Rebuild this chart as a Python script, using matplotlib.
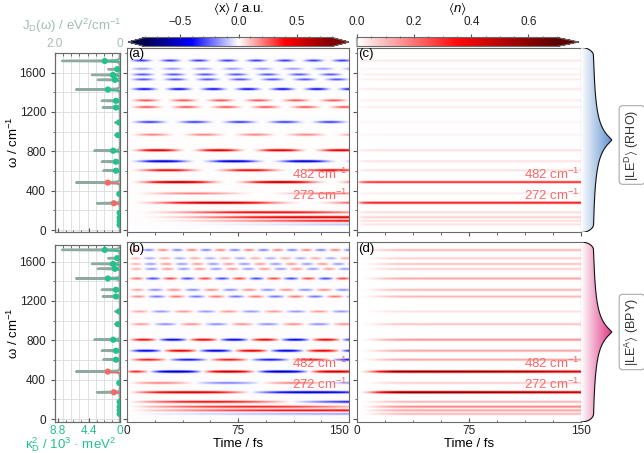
import numpy as np
import matplotlib.pyplot as plt
from matplotlib.colors import LinearSegmentedColormap
from matplotlib.patches import Polygon
from matplotlib.ticker import MultipleLocator, FixedLocator, FuncFormatter

plt.rcParams['font.family'] = ['Liberation Sans', 'DejaVu Sans']
plt.rcParams['mathtext.fontset'] = 'custom'
plt.rcParams['mathtext.rm'] = 'Liberation Sans'
plt.rcParams['mathtext.it'] = 'Liberation Sans:italic'
plt.rcParams['mathtext.bf'] = 'Liberation Sans:bold'
plt.rcParams['mathtext.fallback'] = 'stixsans'
plt.rcParams['font.size'] = 8.5
plt.rcParams['axes.edgecolor'] = '#6a6a6a'
plt.rcParams['axes.linewidth'] = 0.8
plt.rcParams['xtick.major.size'] = 3
plt.rcParams['ytick.major.size'] = 3
plt.rcParams['xtick.minor.size'] = 1.8
plt.rcParams['ytick.minor.size'] = 1.8
plt.rcParams['xtick.color'] = '#555555'
plt.rcParams['ytick.color'] = '#555555'
plt.rcParams['xtick.labelcolor'] = '#222222'
plt.rcParams['ytick.labelcolor'] = '#222222'

# vibrational modes (cm^-1) and couplings
freqs = [1718, 1634, 1576, 1526, 1428, 1313, 1245, 1093, 964, 806, 694, 603, 482, 367, 272, 175, 125, 88, 52]
kappa2 = [2.16, 0.38, 1.00, 0.72, 1.73, 0.58, 0.58, 0.14, 0.29, 0.96, 0.58, 0.58, 1.73, 0.10, 0.87, 0.05, 0.05, 0.05, 0.05]
j_peak = [1.78, 0.36, 0.86, 0.68, 1.35, 0.56, 0.53, 0.15, 0.15, 0.79, 0.56, 0.51, 1.35, 0.05, 0.71, 0.04, 0.04, 0.04, 0.04]
marked = [482, 272]

# <x> per mode: (a) RHO, (b) BPY (apparent beat frequency and time shift for BPY)
x_rho = [-0.35, -0.18, -0.3, -0.3, -0.45, 0.3, 0.3, -0.35, 0.22, 0.6, -0.6, 0.5, 0.75, 0.22, 0.7, 0.5, 0.6, 0.5, -0.25]
x_bpy = [0.22, 0.15, 0.18, 0.18, 0.32, 0.2, 0.24, 0.18, 0.2, 0.5, -0.55, 0.42, 0.7, 0.22, 0.62, 0.45, 0.4, 0.45, -0.18]
f_bpy = [1718, 1634, 1576, 1526, 1428, 1313, 1245, 1093, 964, 806, 694, 603, 463, 367, 200, 150, 100, 60, 40]
t0_bpy = [0, 0, 0, 0, 0, 0, 0, 0, 0, 0, 0, 0, 21, 0, 0, 0, 0, 0, 0]

# <n> per mode: (c) RHO, (d) BPY (drop = fractional loss at 150 fs)
n_rho = [0.04, 0.02, 0.03, 0.03, 0.04, 0.03, 0.03, 0.02, 0.02, 0.05, 0.05, 0.05, 0.35, 0.03, 0.4, 0.06, 0.08, 0.06, 0.05]
n_bpy = [0.12, 0.08, 0.1, 0.08, 0.15, 0.12, 0.12, 0.05, 0.1, 0.18, 0.15, 0.15, 0.8, 0.08, 0.8, 0.12, 0.2, 0.15, 0.12]
n_drop = [0, 0, 0, 0, 0, 0, 0, 0, 0, 0, 0, 0, 0.35, 0, 0.3, 0, 0, 0, 0]

W, H = 644, 453
fig = plt.figure(figsize=(W / 100, H / 100), dpi=100)


def box(x0, y0, x1, y1):
    return [x0 / W, 1 - y1 / H, (x1 - x0) / W, (y1 - y0) / H]


freq = np.array(freqs, float)
c_fs = 2.99792458e-5
t = np.linspace(0, 150, 601)
w = np.arange(-40, 1861, 1.0)
prof = np.exp(-(w[:, None] - freq[None, :]) ** 2 / (2 * 7.5 ** 2))

ph_a = 2 * np.pi * c_fs * freq[:, None] * t[None, :]
Za = prof @ (np.array(x_rho)[:, None] * 0.5 * (1 - np.cos(ph_a)))
ph_b = 2 * np.pi * c_fs * np.array(f_bpy, float)[:, None] * (t[None, :] + np.array(t0_bpy, float)[:, None])
Zb = prof @ (np.array(x_bpy)[:, None] * np.sin(ph_b) * (1 - np.exp(-t / 4.0))[None, :])
Zc = prof @ (np.array(n_rho)[:, None] * (1 - np.exp(-t / 3.0))[None, :])
env_d = (1 - np.exp(-(t / 18.0) ** 2))[None, :] * (1 - np.array(n_drop)[:, None] * (t[None, :] / 150) ** 2)
Zd = prof @ (np.array(n_bpy)[:, None] * env_d)

cmap_x = plt.get_cmap('seismic')
cmap_n = LinearSegmentedColormap.from_list('n', [(0, '#ffffff'), (0.5, '#ff0a0a'), (1, '#5c0000')])

green = '#22c18d'
salmon = '#f26b6b'
jcol = '#a3bcb3'
w_fine = np.arange(-40, 1860, 0.25)
gam = 2.5
j_curve = sum(a * gam ** 2 / ((w_fine - f) ** 2 + gam ** 2) for a, f in zip(j_peak, freqs))
dot_cols = [salmon if f in marked else green for f in freqs]
fmt0 = FuncFormatter(lambda v, p: '0' if abs(v) < 1e-9 else f'{v:.1f}')


def spectral_panel(r, ylim, top_lab, bottom_lab):
    ax = fig.add_axes(r)
    axk = ax.twiny()
    ax.plot(j_curve, w_fine, color='#8eaa9f', lw=1.7, zorder=2)
    ax.set_xlim(2.0, 0)
    ax.set_ylim(*ylim)
    ax.xaxis.set_ticks_position('top')
    ax.xaxis.set_major_locator(FixedLocator([2.0, 0]))
    ax.xaxis.set_minor_locator(MultipleLocator(0.25))
    ax.xaxis.set_major_formatter(fmt0)
    ax.tick_params(axis='x', which='both', direction='in', labelcolor=jcol, labeltop=top_lab,
                   labelbottom=False, pad=2)
    ax.yaxis.set_major_locator(MultipleLocator(400))
    ax.yaxis.set_minor_locator(MultipleLocator(200))
    ax.tick_params(axis='y', which='both', direction='out')
    ax.grid(True, which='both', color='#dcdcdc', lw=0.6)
    ax.set_axisbelow(True)
    y0, y1 = r[1], r[1] + r[3]
    fig.text(13 / W, (y0 + y1) / 2, 'ω / cm$^{-1}$', rotation=90, ha='center', va='center', fontsize=9.5)

    axk.set_xlim(9.2, 0)
    axk.xaxis.set_ticks_position('bottom')
    axk.xaxis.set_major_locator(FixedLocator([8.8, 4.4, 0]))
    axk.xaxis.set_minor_locator(MultipleLocator(1.1))
    axk.xaxis.set_major_formatter(fmt0)
    axk.tick_params(axis='x', which='both', direction='in', labelcolor=green, labelbottom=bottom_lab,
                    labeltop=False, pad=2)
    axk.hlines(freqs, 0, kappa2, colors=dot_cols, lw=1.0, zorder=3)
    axk.scatter(kappa2, freqs, s=20, c=dot_cols, zorder=4, linewidths=0)
    return ax


def map_panel(r, Z, cmap, vmin, vmax, ylim, letter, bottom):
    ax = fig.add_axes(r)
    im = ax.imshow(Z, extent=[0, 150, w[0], w[-1]], origin='lower', aspect='auto',
                   cmap=cmap, vmin=vmin, vmax=vmax, interpolation='bilinear')
    ax.set_xlim(0, 150)
    ax.set_ylim(*ylim)
    ax.xaxis.set_major_locator(MultipleLocator(75))
    ax.xaxis.set_minor_locator(MultipleLocator(18.75))
    ax.yaxis.set_major_locator(MultipleLocator(400))
    ax.yaxis.set_minor_locator(MultipleLocator(200))
    ax.tick_params(axis='y', which='both', direction='out', labelleft=False)
    if bottom:
        ax.tick_params(axis='x', which='both', direction='in', pad=2)
        ax.set_xlabel('Time / fs', fontsize=9.5, labelpad=1)
    else:
        ax.tick_params(axis='x', which='both', direction='out', labelbottom=False)
    ax.text(0.005, 0.995, letter, transform=ax.transAxes, ha='left', va='top', fontsize=9.5)
    for f in marked:
        ax.text(149, f + 4, f'{f} cm$^{{-1}}$', color=salmon, ha='right', va='bottom', fontsize=9.5)
    return ax, im


def brace(r, color):
    ax = fig.add_axes(r)
    ax.set_xlim(0, 1)
    ax.set_ylim(0, 1)
    ax.axis('off')
    u = np.linspace(0, 1, 1200)
    s = np.abs(u - 0.5) * 2
    rho = 0.09
    corner = np.where(s > 1 - rho, np.sqrt(np.clip(1 - ((s - (1 - rho)) / rho) ** 2, 0, 1)), 1.0)
    x = corner * (0.3 + 0.58 / (1 + (s / 0.15) ** 1.2))
    poly = Polygon(np.column_stack([x, u]), closed=True, fc='none', ec='none')
    ax.add_patch(poly)
    grad = np.linspace(0, 1, 256)[None, :]
    cm = LinearSegmentedColormap.from_list('g', ['#ffffff', color])
    im = ax.imshow(grad, extent=[0, 0.9, 0, 1], aspect='auto', cmap=cm, origin='lower')
    im.set_clip_path(poly)
    ax.plot(x, u, color='#111111', lw=0.8)


top_ylim = (-25, 1855)
bot_ylim = (-30, 1799)
spectral_panel(box(55, 53, 120, 232.5), (-25, 1799), True, False)
spectral_panel(box(55, 245, 120, 422), (-30, 1768), False, True)
fig.text(72 / W, 1 - 26 / H, 'J$_\\mathrm{D}$(ω) / eV$^2$/cm$^{-1}$', color=jcol, ha='center', va='center', fontsize=9.5)
fig.text(71 / W, 1 - 445 / H, 'κ$_\\mathrm{D}^2$ / 10$^3$ · meV$^2$', color=green, ha='center', va='center', fontsize=9.5)

ax_a, im_a = map_panel(box(127, 47.5, 349, 232.5), Za, cmap_x, -0.8, 0.8, top_ylim, '(a)', False)
ax_b, _ = map_panel(box(127, 242, 349, 422), Zb, cmap_x, -0.8, 0.8, bot_ylim, '(b)', True)
ax_c, im_c = map_panel(box(357, 47.5, 581, 232.5), Zc, cmap_n, 0, 0.7, top_ylim, '(c)', False)
map_panel(box(357, 242, 581, 422), Zd, cmap_n, 0, 0.7, bot_ylim, '(d)', True)

# the last time label of (b) sits flush with the panel edge, as in the original
fig.canvas.draw()
for lab in ax_b.get_xticklabels():
    if lab.get_text() == '150':
        lab.set_horizontalalignment('right')

cax1 = fig.add_axes(box(128, 37.5, 349, 46.5))
cb1 = fig.colorbar(im_a, cax=cax1, orientation='horizontal', extend='both', extendfrac=0.09)
cb1.set_ticks([-0.5, 0.0, 0.5])
cax1.xaxis.set_minor_locator(MultipleLocator(0.1))
cax1.xaxis.set_ticks_position('top')
cax1.xaxis.set_label_position('top')
cb1.set_label('$\\langle$x$\\rangle$ / a.u.', fontsize=9.5, labelpad=3)
cb1.outline.set_edgecolor('#6a6a6a')

cax2 = fig.add_axes(box(357, 37.5, 579, 46.5))
cb2 = fig.colorbar(im_c, cax=cax2, orientation='horizontal', extend='max', extendfrac=0.11)
cb2.set_ticks([0.0, 0.2, 0.4, 0.6])
cax2.xaxis.set_minor_locator(MultipleLocator(0.05))
cax2.xaxis.set_ticks_position('top')
cax2.xaxis.set_label_position('top')
cb2.set_label('$\\langle\\mathit{n}\\rangle$', fontsize=9.5, labelpad=3)
cb2.outline.set_edgecolor('#6a6a6a')

brace(box(581, 47.5, 616, 232.5), '#5b8fd0')
brace(box(581, 242, 616, 422), '#e0307f')
lab_box = dict(boxstyle='round,pad=0.3', fc='white', ec='#aaaaaa', lw=0.8)
fig.text(632 / W, 1 - 145 / H, '|LE$^{\\mathrm{D}}\\rangle$ (RHO)', rotation=90, ha='center', va='center',
         fontsize=9, color='#333333', bbox=lab_box)
fig.text(632 / W, 1 - 332 / H, '|LE$^{\\mathrm{A}}\\rangle$ (BPY)', rotation=90, ha='center', va='center',
         fontsize=9, color='#333333', bbox=lab_box)

plt.savefig('out.png', dpi=100)
